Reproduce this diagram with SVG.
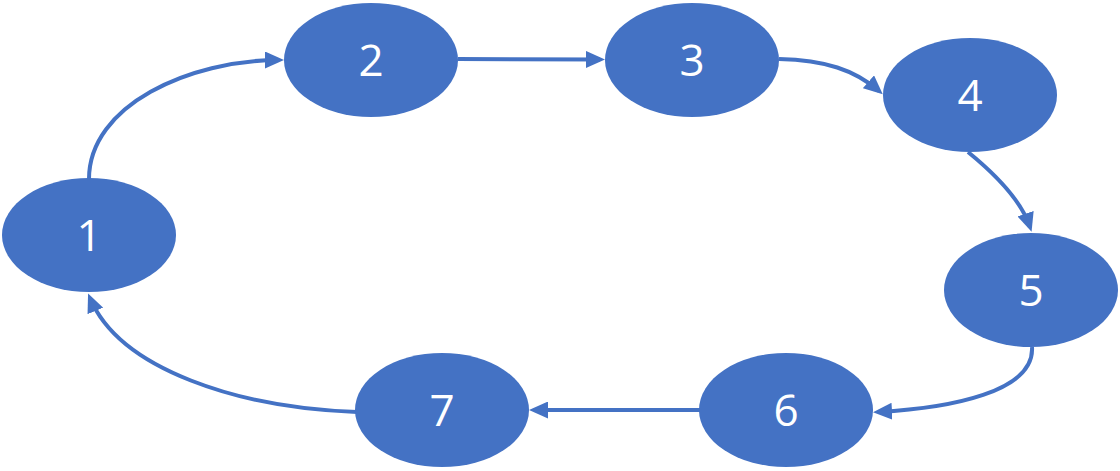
<svg xmlns="http://www.w3.org/2000/svg" width="1120" height="471" viewBox="0 0 1120 471">
<style>
.n{fill:#4472C4}
.t{fill:#fff;font-family:"Open Sans","Liberation Sans",sans-serif;font-size:44px;text-anchor:middle}
.e{fill:none;stroke:#4472C4;stroke-width:4}
</style>
<defs>
<marker id="a" markerUnits="userSpaceOnUse" markerWidth="19" markerHeight="17" refX="14" refY="8.5" orient="auto">
<path d="M0,0 L19,8.5 L0,17 z" fill="#4472C4"/>
</marker>
</defs>
<g id="edges">
<path class="e" marker-end="url(#a)" d="M89,179 C89,105 190,60 279,60"/>
<path class="e" marker-end="url(#a)" d="M458,59 L600,59.5"/>
<path class="e" marker-end="url(#a)" d="M779,59 C825,60 855,70 879,91"/>
<path class="e" marker-end="url(#a)" d="M968,152 C1000,178 1022,203 1030,227"/>
<path class="e" marker-end="url(#a)" d="M1032,347 C1035,392 950,408 878,412"/>
<path class="e" marker-end="url(#a)" d="M700,410 L534,410"/>
<path class="e" marker-end="url(#a)" d="M357,412 C240,408 120,370 90,298"/>
</g>
<g id="n1"><ellipse class="n" cx="89" cy="235" rx="87" ry="57"/><text class="t" x="89" y="251">1</text></g>
<g id="n2"><ellipse class="n" cx="371" cy="60" rx="87" ry="57"/><text class="t" x="371" y="76">2</text></g>
<g id="n3"><ellipse class="n" cx="692" cy="60" rx="87" ry="57"/><text class="t" x="692" y="76">3</text></g>
<g id="n4"><ellipse class="n" cx="970" cy="95" rx="87" ry="57"/><text class="t" x="970" y="111">4</text></g>
<g id="n5"><ellipse class="n" cx="1031" cy="290" rx="87" ry="57"/><text class="t" x="1031" y="306">5</text></g>
<g id="n6"><ellipse class="n" cx="786" cy="410" rx="87" ry="57"/><text class="t" x="786" y="426">6</text></g>
<g id="n7"><ellipse class="n" cx="442" cy="410" rx="87" ry="57"/><text class="t" x="442" y="426">7</text></g>
</svg>
